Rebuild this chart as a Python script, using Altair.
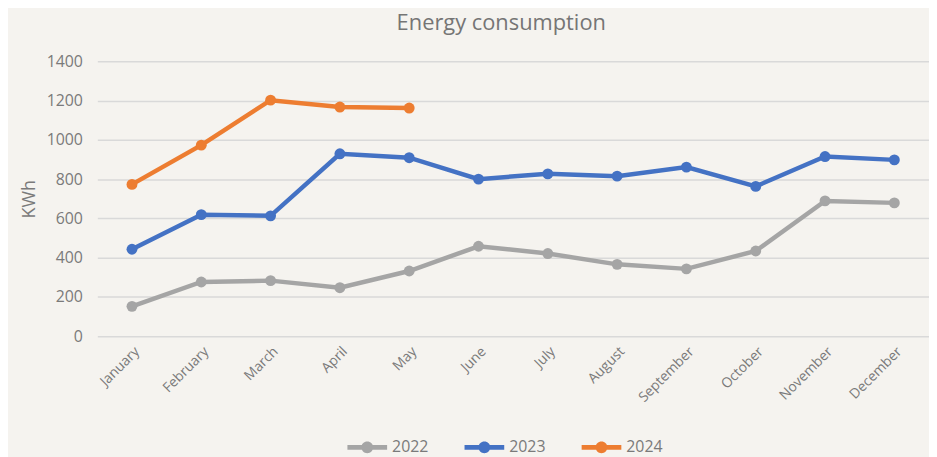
import altair as alt
import pandas as pd

months = ["January", "February", "March", "April", "May", "June", "July",
          "August", "September", "October", "November", "December"]
years = ["2022", "2023", "2024"]
v2022 = [152, 276, 283, 247, 332, 458, 421, 366, 343, 434, 689, 679]
v2023 = [443, 619, 613, 929, 909, 800, 827, 815, 861, 763, 915, 898]
v2024 = [773, 973, 1202, 1167, 1162]
colors = ["#A5A5A5", "#4472C4", "#ED7D31"]

rows = []
for yr, vals in zip(years, [v2022, v2023, v2024]):
    for m, v in zip(months, vals):
        rows.append({"month": m, "year": yr, "kwh": v})
df = pd.DataFrame(rows)

font = "Open Sans"
txt = "#7a7a7a"

sym = ("M-1,-0.125 L1,-0.125 L1,0.125 L-1,0.125 Z "
       "M-0.3,0 A0.3,0.3 0 1,1 0.3,0 A0.3,0.3 0 1,1 -0.3,0 Z")

x = alt.X("month:N", sort=months,
          scale=alt.Scale(type="point", padding=0.5),
          axis=alt.Axis(title=None, labelAngle=-45, labelAlign="right",
                        labelBaseline="top", ticks=False, domain=False,
                        grid=False, labelFontSize=14, labelColor=txt,
                        labelFont=font, labelPadding=8))
y = alt.Y("kwh:Q", scale=alt.Scale(domain=[0, 1400], nice=False),
          axis=alt.Axis(title="KWh", values=list(range(0, 1401, 200)),
                        format="d",
                        ticks=False, domain=False, gridColor="#d9d9d9",
                        gridWidth=1.5, labelFontSize=16, labelColor=txt,
                        labelFont=font, labelPadding=15, titleFontSize=18,
                        titleFontWeight="normal", titleColor=txt,
                        titleFont=font, titlePadding=8))

scale = alt.Scale(domain=years, range=colors)

lines = alt.Chart(df).mark_line(strokeWidth=4.5).encode(
    x=x, y=y,
    color=alt.Color("year:N", scale=scale, legend=None),
)
points = alt.Chart(df).mark_point(filled=True, size=120, opacity=1).encode(
    x=x, y=y,
    color=alt.Color("year:N", scale=scale, legend=alt.Legend(
        orient="none", legendX=252, legendY=369, direction="horizontal",
        title=None, symbolType=sym, symbolSize=1600, symbolStrokeWidth=0,
        symbolOpacity=1, labelFontSize=16, labelColor=txt, labelFont=font,
        columnPadding=36, labelOffset=5)),
)

chart = alt.layer(lines, points).resolve_legend(color="independent").properties(
    width=838, height=277,
    title=alt.TitleParams("Energy consumption", fontSize=22, font=font,
                          color="#757575", fontWeight="normal", offset=19,
                          anchor="middle", dx=-12),
    background="#f5f3ef",
    padding={"left": 90, "top": 52, "right": 0, "bottom": 120},
    autosize=alt.AutoSizeParams(type="none"),
).configure_view(stroke=None)

chart.save("out.html", embed_options={"renderer": "svg", "actions": False})
